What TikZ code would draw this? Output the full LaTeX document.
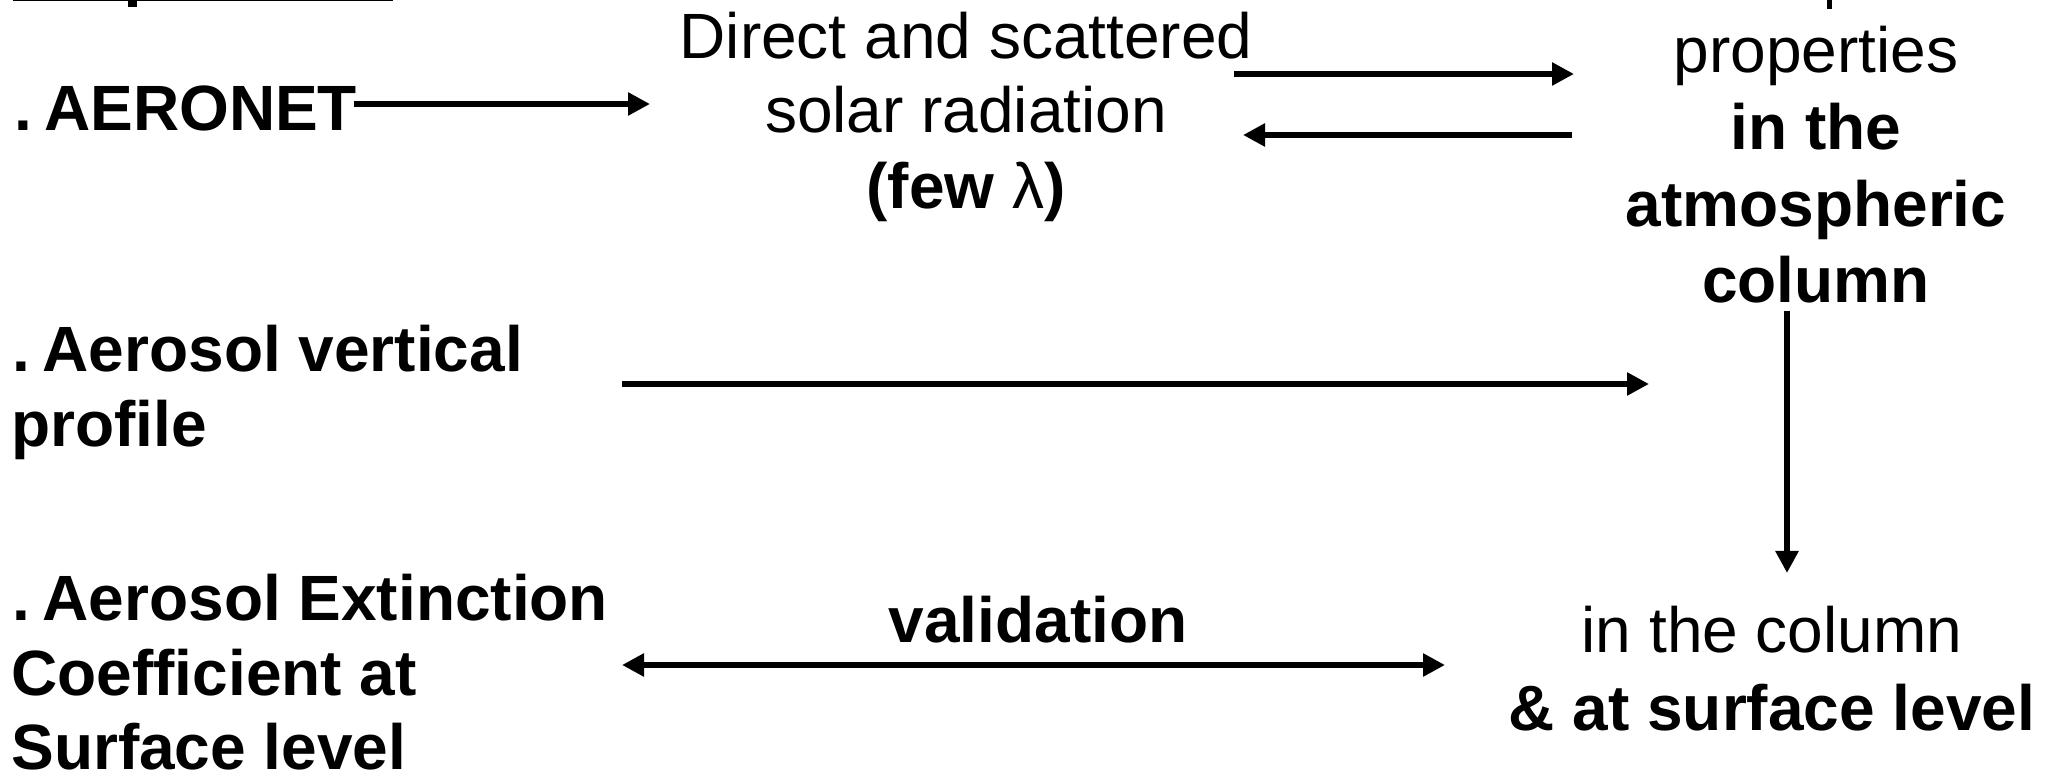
\documentclass[tikz,border=0pt]{standalone}
\usepackage{fontspec}
\setmainfont{Liberation Sans}
\usetikzlibrary{arrows.meta}
\newcommand{\bulletdot}{.\hspace{6pt}}
\begin{document}
\begin{tikzpicture}[x=0.5pt,y=-0.5pt,
  txt/.style={inner sep=0pt, font=\fontsize{32}{38}\selectfont},
  btxt/.style={inner sep=0pt, font=\fontsize{32}{38}\selectfont\bfseries},
  tipa/.style={-{Triangle[length=11pt,width=11pt]}},
  arr/.style={line width=3.4pt, tipa},
  darr/.style={line width=3.4pt, {Triangle[length=11pt,width=11pt]}-{Triangle[length=11pt,width=11pt]}},
  frag/.style={fill=black, draw=none}]
\useasboundingbox (0,0) rectangle (2049,779);
% fragments of cut-off text at the top edge
\fill[frag] (13,-3) rectangle (393,1.5);
\fill[frag] (128,0) rectangle (137,7);
\fill[frag] (1827,0) rectangle (1832,9);
% left column
\node[btxt, anchor=base west] (aeronet) at (14,131) {\bulletdot AERONET};
\node[btxt, anchor=base west] (vert1) at (12.5,372) {\bulletdot Aerosol vertical};
\node[btxt, anchor=base west] (vert2) at (11,447) {profile};
\node[btxt, anchor=base west] (ext1) at (12.5,621) {\bulletdot Aerosol Extinction};
\node[btxt, anchor=base west] (ext2) at (11,695) {Coefficient at};
\node[btxt, anchor=base west] (ext3) at (11,769) {Surface level};
% centre
\node[txt, anchor=base] (rad1) at (966,59) {Direct and scattered};
\node[txt, anchor=base] (rad2) at (966,133) {solar radiation};
\node[btxt, anchor=base] (rad3) at (966,209) {(few {\mdseries λ})};
\node[btxt, anchor=base] (valid) at (1038,643) {validation};
% right column
\node[txt, anchor=base] (prop1) at (1816,73) {properties};
\node[btxt, anchor=base] (prop2) at (1816,150) {in the};
\node[btxt, anchor=base] (prop3) at (1816,227) {atmospheric};
\node[btxt, anchor=base] (prop4) at (1816,303) {column};
\node[txt, anchor=base] (surf1) at (1772,653) {in the column};
\node[btxt, anchor=base] (surf2) at (1772,730) {\& at surface level};
% connector end points
\coordinate (a1s) at (354,104);  \coordinate (a1e) at (650,104);
\coordinate (a2s) at (1234,74);  \coordinate (a2e) at (1574,74);
\coordinate (a3s) at (1572,135); \coordinate (a3e) at (1243,135);
\coordinate (a4s) at (622,384);  \coordinate (a4e) at (1649,384);
\coordinate (a5s) at (1787,311); \coordinate (a5e) at (1787,573);
\coordinate (a6s) at (622,665);  \coordinate (a6e) at (1445,665);
\draw[arr] (a1s) -- (a1e);
\draw[arr] (a2s) -- (a2e);
\draw[arr] (a3s) -- (a3e);
\draw[arr] (a4s) -- (a4e);
\draw[arr] (a5s) -- (a5e);
\draw[darr] (a6s) -- (a6e);
\end{tikzpicture}
\end{document}
